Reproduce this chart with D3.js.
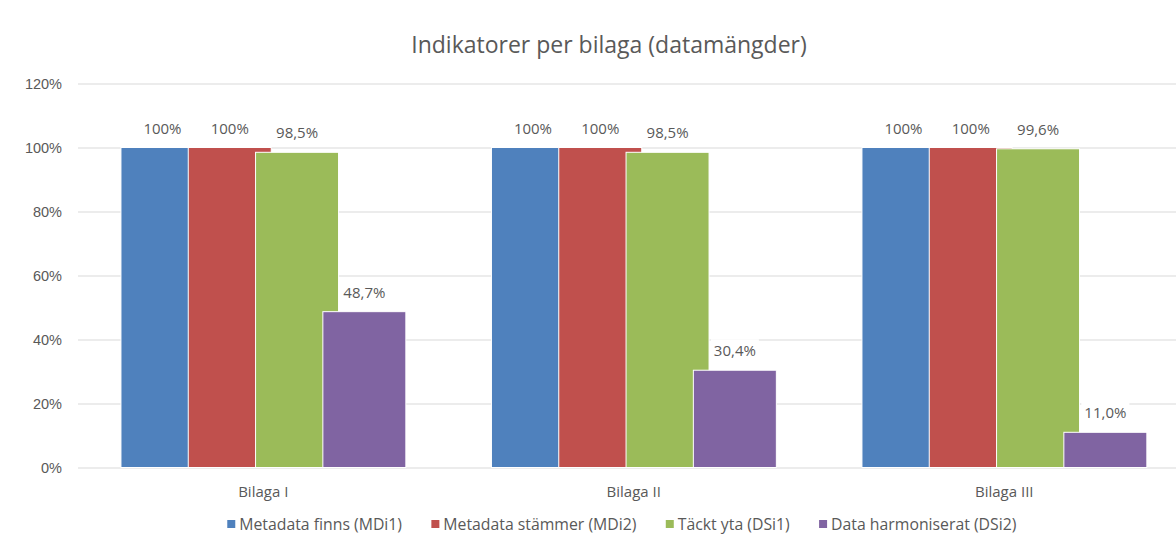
<!DOCTYPE html>
<html>
<head>
<meta charset="utf-8">
<script src="https://cdn.jsdelivr.net/npm/d3@7"></script>
<style>
  body { margin: 0; background: #fff; }
  svg { display: block; font-family: 'Open Sans', sans-serif; }
</style>
</head>
<body>
<svg></svg>
<script>
/* data */
const categories = ['Bilaga I', 'Bilaga II', 'Bilaga III'];
const seriesNames = ['Metadata finns (MDi1)', 'Metadata stämmer (MDi2)', 'Täckt yta (DSi1)', 'Data harmoniserat (DSi2)'];
const seriesColors = ['#4f81bd', '#c0504d', '#9bbb59', '#8064a2'];
const mdi1 = [1.0, 1.0, 1.0];
const mdi2 = [1.0, 1.0, 1.0];
const dsi1 = [0.985, 0.985, 0.996];
const dsi2 = [0.487, 0.304, 0.110];
const labels = [
	['100%', '100%', '100%'],
	['100%', '100%', '100%'],
	['98,5%', '98,5%', '99,6%'],
	['48,7%', '30,4%', '11,0%']
];
const yTicks = [0, 0.2, 0.4, 0.6, 0.8, 1.0, 1.2];

const allValues = [mdi1, mdi2, dsi1, dsi2];

const width = 1176, height = 535;
const textColor = '#595959';

const svg = d3.select('svg')
	.attr('width', width)
	.attr('height', height);

/* scales */
const x0 = d3.scaleBand().domain(categories).range([78, 1189.5]).padding(0);
const x1 = d3.scalePoint().domain(seriesNames).range([-142.3, 59.6]);
const barWidth = 83;
const y = d3.scaleLinear().domain([0, 1.2]).range([467.5, 83.5]);

/* title */
svg.append('text')
	.attr('x', 609)
	.attr('y', 53)
	.attr('text-anchor', 'middle')
	.attr('fill', textColor)
	.style('font-size', '23px')
	.text('Indikatorer per bilaga (datamängder)');

/* gridlines + y axis */
const yAxis = d3.axisLeft(y)
	.tickValues(yTicks)
	.tickFormat(d3.format('.0%'))
	.tickSize(-(1189.5 - 78))
	.tickPadding(16);
const gy = svg.append('g')
	.attr('transform', 'translate(78,0)')
	.call(yAxis);
gy.select('.domain').remove();
gy.selectAll('.tick line').attr('stroke', '#d9d9d9');
gy.selectAll('.tick text')
	.attr('fill', textColor)
	.style('font-size', '14.5px');

/* bars */
const groups = svg.append('g').selectAll('g')
	.data(categories)
	.join('g')
	.attr('transform', d => `translate(${x0(d) + x0.bandwidth() / 2},0)`);

seriesNames.forEach((name, si) => {
	groups.append('rect')
		.attr('x', x1(name))
		.attr('y', (d, ci) => y(allValues[si][ci]))
		.attr('width', barWidth)
		.attr('height', (d, ci) => y(0) - y(allValues[si][ci]))
		.attr('fill', seriesColors[si])
		.attr('stroke', '#fff')
		.attr('stroke-width', 1);
});

/* data labels with white background */
seriesNames.forEach((name, si) => {
	const lg = groups.append('g')
		.attr('transform', (d, ci) => `translate(${x1(name) + barWidth / 2},${y(allValues[si][ci]) - 14})`);
	lg.append('text')
		.attr('text-anchor', 'middle')
		.attr('fill', textColor)
		.style('font-size', '15px')
		.text((d, ci) => labels[si][ci]);
	lg.each(function () {
		const bb = d3.select(this).select('text').node().getBBox();
		d3.select(this).insert('rect', 'text')
			.attr('x', bb.x - 3)
			.attr('y', bb.y - 1)
			.attr('width', bb.width + 6)
			.attr('height', bb.height + 2)
			.attr('fill', '#fff');
	});
});

/* category labels */
svg.append('g').selectAll('text')
	.data(categories)
	.join('text')
	.attr('x', d => x0(d) + x0.bandwidth() / 2)
	.attr('y', 497)
	.attr('text-anchor', 'middle')
	.attr('fill', textColor)
	.style('font-size', '15px')
	.text(d => d);

/* legend */
const legend = svg.append('g').attr('transform', 'translate(0,530)');
const items = legend.selectAll('g')
	.data(seriesNames)
	.join('g');
items.append('rect')
	.attr('y', -10)
	.attr('width', 8)
	.attr('height', 8)
	.attr('fill', (d, i) => seriesColors[i]);
items.append('text')
	.attr('x', 12)
	.attr('fill', textColor)
	.style('font-size', '15.8px')
	.text(d => d);
/* lay items out centred */
const gap = 29;
const widths = [];
items.each(function () { widths.push(this.getBBox().width); });
const total = d3.sum(widths) + gap * (widths.length - 1);
let cx = 622 - total / 2;
items.attr('transform', (d, i) => {
	const px = cx;
	cx += widths[i] + gap;
	return `translate(${px},0)`;
});
</script>
</body>
</html>
